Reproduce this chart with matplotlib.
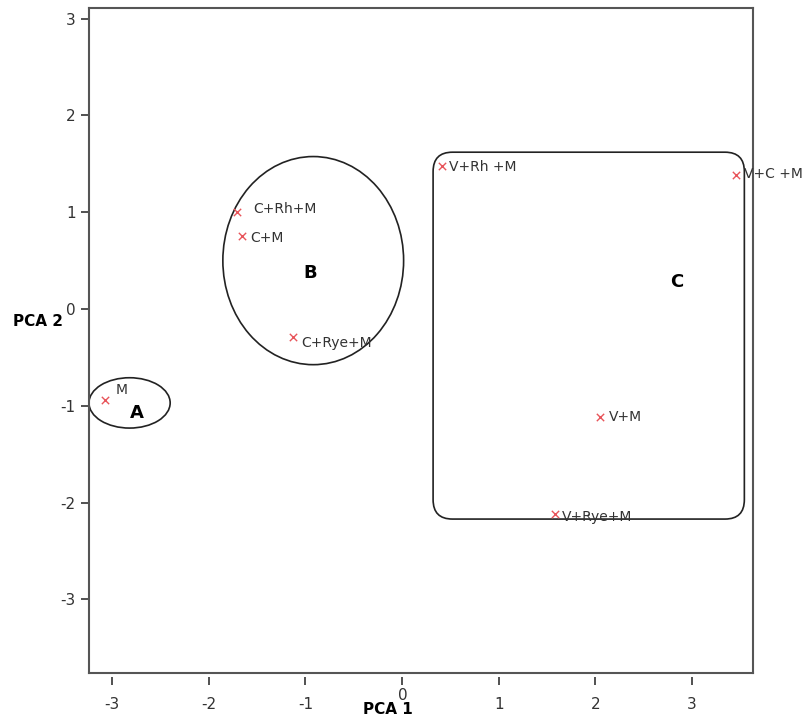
import numpy as np
import matplotlib.pyplot as plt
from matplotlib.patches import Ellipse, FancyBboxPatch

plt.rcParams['axes.unicode_minus'] = False

# Daten (PCA-Scores)
labels = ['M', 'C+Rh+M', 'C+M', 'C+Rye+M', 'V+Rh +M', 'V+C +M', 'V+M', 'V+Rye+M']
pca1 = [-3.07, -1.71, -1.66, -1.13, 0.41, 3.45, 2.05, 1.58]
pca2 = [-0.94, 1.00, 0.75, -0.29, 1.48, 1.38, -1.12, -2.12]
# Verschiebung der Beschriftungen (in Punkten)
offsets = [(7, 7), (12, 2), (6, -1), (6, -4), (5, -1), (6, 1), (6, 0), (5, -2)]

ticks = [-3, -2, -1, 0, 1, 2, 3]
tick_labels = ['-3', '-2', '-1', '', '1', '2', '3']  # die 0 wird extra gesetzt

# Gruppen: Ellipsen A, B und Rechteck C
ell_a = dict(center=(-2.82, -0.97), w=0.84, h=0.52)
ell_b = dict(center=(-0.92, 0.50), w=1.87, h=2.15)
box_c = dict(x0=0.32, y0=-2.17, x1=3.54, y1=1.62)
grp_names = ['A', 'B', 'C']
grp_pos = [(-2.74, -1.07), (-0.95, 0.37), (2.84, 0.28)]

fig = plt.figure(figsize=(8.03, 7.17), dpi=100)
ax = fig.add_axes([0.1108, 0.0614, 0.827, 0.9275])

ax.scatter(pca1, pca2, marker='x', color='#e8545a', s=28, linewidths=1.0, zorder=3)
for lab, x, y, off in zip(labels, pca1, pca2, offsets):
    ax.annotate(lab, (x, y), xytext=off, textcoords='offset points',
                fontsize=10, color='#333333', va='center', ha='left')

ax.add_patch(Ellipse(ell_a['center'], ell_a['w'], ell_a['h'], fill=False, lw=1.2, color='#222222'))
ax.add_patch(Ellipse(ell_b['center'], ell_b['w'], ell_b['h'], fill=False, lw=1.2, color='#222222'))
ax.add_patch(FancyBboxPatch((box_c['x0'], box_c['y0']), box_c['x1'] - box_c['x0'], box_c['y1'] - box_c['y0'],
                            boxstyle='round,pad=0,rounding_size=0.2', fill=False, lw=1.2, ec='#222222'))
for name, (x, y) in zip(grp_names, grp_pos):
    ax.text(x, y, name, fontsize=13, fontweight='bold', ha='center', va='center')

ax.set_xlim(-3.24, 3.63)
ax.set_ylim(-3.76, 3.11)
ax.set_xticks(ticks)
ax.set_xticklabels(tick_labels)
ax.set_yticks(ticks)
ax.tick_params(axis='both', labelsize=11, colors='#333333', length=6, width=1.2)
ax.tick_params(axis='x', pad=8)

# untere Achse etwas abgesetzt, Rahmen unten extra zeichnen
ax.spines['bottom'].set_position(('outward', 3))
ax.spines['bottom'].set_visible(False)
ax.plot([0, 1], [0, 0], transform=ax.transAxes, color='#555555', lw=1.5, clip_on=False)
for s in ['top', 'left', 'right']:
    ax.spines[s].set_color('#555555')
    ax.spines[s].set_linewidth(1.5)

fig.text(403 / 803, 1 - 695 / 717, '0', fontsize=11, color='#333333', ha='center', va='center')
fig.text(388 / 803, 1 - 710 / 717, 'PCA 1', fontsize=11, fontweight='bold', ha='center', va='center')
fig.text(38 / 803, 1 - 322 / 717, 'PCA 2', fontsize=11, fontweight='bold', ha='center', va='center')

fig.savefig('out.png', dpi=100)
